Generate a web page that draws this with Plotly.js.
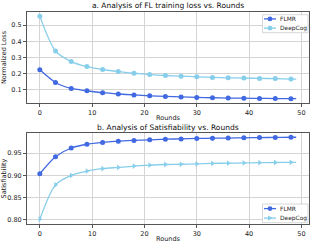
<!DOCTYPE html>
<html><head><meta charset="utf-8">
<script src="https://cdn.plot.ly/plotly-3.0.1.min.js"></script>
<style>html,body{margin:0;padding:0;background:#fff}#c{width:314px;height:246px}</style>
</head><body><div id="c"></div>
<script>
var rounds = [0,3,6,9,12,15,18,21,24,27,30,33,36,39,42,45,48,49];
var lossFLMR = [0.224,0.146,0.109,0.095,0.083,0.075,0.069,0.064,0.060,0.057,0.054,0.052,0.050,0.049,0.048,0.047,0.046,0.046];
var lossDeepCog = [0.555,0.340,0.275,0.244,0.226,0.213,0.203,0.195,0.189,0.185,0.181,0.177,0.175,0.173,0.171,0.170,0.167,0.167];
var satFLMR = [0.9037,0.942,0.9616,0.970,0.974,0.977,0.9787,0.980,0.9815,0.982,0.983,0.9837,0.984,0.9845,0.985,0.9853,0.9857,0.9858];
var satDeepCog = [0.8015,0.8786,0.900,0.9097,0.915,0.918,0.921,0.923,0.9245,0.925,0.926,0.927,0.9275,0.928,0.9285,0.929,0.9293,0.9294];
var seriesNames = ['FLMR','DeepCog'];
var xTicks = [0,10,20,30,40,50];

var cFL = '#4169E1', cDC = '#87CEEB';
var W = 314, H = 246, ML = 27, MR = 5, MT = 12, MB = 22;
var PW = W - ML - MR, PH = H - MT - MB;
function px(x){ return (x - ML) / PW; }
function py(y){ return (H - MB - y) / PH; }

function mcol(c){ return rounds.map(function(r,i){ return i===rounds.length-1 ? 'rgba(0,0,0,0)' : c; }); }
function tr(y, name, c, sym, xa, ya){
  return {x: rounds, y: y, name: name, mode:'lines+markers', xaxis:xa, yaxis:ya, showlegend:false,
    line:{color:c, width:1.3, shape:'spline', smoothing:0.8},
    marker:{color:mcol(c), size:5, symbol:sym, line:{width:0}}};
}
var data = [
  tr(lossFLMR, seriesNames[0], cFL, 'circle', 'x', 'y'),
  tr(lossDeepCog, seriesNames[1], cDC, 'circle', 'x', 'y'),
  tr(satFLMR, seriesNames[0], cFL, 'circle', 'x2', 'y2'),
  tr(satDeepCog, seriesNames[1], cDC, 'triangle-right', 'x2', 'y2')
];
var fnt = {family:'DejaVu Sans, sans-serif', size:6.5, color:'#222'};
var ax = {range:[-2.45,51.45], tickvals:xTicks, showgrid:true, gridcolor:'#d4d4d4', gridwidth:1,
  zeroline:false, showline:true, mirror:true, linecolor:'#555', linewidth:1, ticks:'outside', ticklen:3,
  tickcolor:'#555', tickfont:fnt};
var yax = {showgrid:true, gridcolor:'#d4d4d4', zeroline:false, showline:true, mirror:true, linecolor:'#555',
  ticks:'outside', ticklen:3, tickcolor:'#555', tickfont:fnt};

var shapes = [], annotations = [];
// custom legends (matplotlib style)
function legendBox(top, bottom, entries){
  shapes.push({type:'rect', xref:'paper', yref:'paper', x0:px(262.5), x1:px(308), y0:py(bottom), y1:py(top),
    line:{color:'#cccccc', width:0.8}, fillcolor:'rgba(255,255,255,0.85)', layer:'above'});
  entries.forEach(function(e){
    shapes.push({type:'line', xref:'paper', yref:'paper', x0:px(264), x1:px(276), y0:py(e.y), y1:py(e.y),
      line:{color:e.c, width:1.3}, layer:'above'});
    if (e.sym === 'circle') {
      shapes.push({type:'circle', xref:'paper', yref:'paper', x0:px(267.6), x1:px(272.4), y0:py(e.y+2.4), y1:py(e.y-2.4),
        line:{width:0}, fillcolor:e.c, layer:'above'});
    } else {
      var x0 = 268, y0 = e.y;
      shapes.push({type:'path', xref:'paper', yref:'paper',
        path:'M'+px(x0)+','+py(y0-2.6)+' L'+px(x0+4.6)+','+py(y0)+' L'+px(x0)+','+py(y0+2.6)+' Z',
        line:{width:0}, fillcolor:e.c, layer:'above'});
    }
    annotations.push({text:e.name, xref:'paper', yref:'paper', x:px(278.3), y:py(e.y), xanchor:'left', yanchor:'middle',
      showarrow:false, font:{family:'DejaVu Sans, sans-serif', size:5.9, color:'#222'}});
  });
}
legendBox(14.7, 32.7, [{y:18.9, c:cFL, sym:'circle', name:seriesNames[0]}, {y:28.2, c:cDC, sym:'circle', name:seriesNames[1]}]);
legendBox(204, 222.7, [{y:208.6, c:cFL, sym:'circle', name:seriesNames[0]}, {y:218.1, c:cDC, sym:'tri', name:seriesNames[1]}]);

var tfont = {family:'DejaVu Sans, sans-serif', size:7.5, color:'#111'};
annotations.push({text:'a. Analysis of FL training loss vs. Rounds', xref:'paper', yref:'paper', x:0.5, y:py(6), xanchor:'center', yanchor:'middle', showarrow:false, font:tfont});
annotations.push({text:'b. Analysis of Satisfiability vs. Rounds', xref:'paper', yref:'paper', x:0.5, y:py(127.5), xanchor:'center', yanchor:'middle', showarrow:false, font:tfont});
annotations.push({text:'Rounds', xref:'paper', yref:'paper', x:0.5, y:py(117.5), xanchor:'center', yanchor:'middle', showarrow:false, font:fnt});
annotations.push({text:'Rounds', xref:'paper', yref:'paper', x:0.5, y:py(238.5), xanchor:'center', yanchor:'middle', showarrow:false, font:fnt});

var layout = {
  width:W, height:H, margin:{l:ML, r:MR, t:MT, b:MB}, paper_bgcolor:'#fff', plot_bgcolor:'#fff',
  font:fnt, showlegend:false,
  xaxis: Object.assign({}, ax, {anchor:'y', domain:[0,1]}),
  xaxis2: Object.assign({}, ax, {anchor:'y2', domain:[0,1]}),
  yaxis: Object.assign({}, yax, {domain:[py(103),1], anchor:'x', range:[0.0195,0.5805], tickvals:[0.1,0.2,0.3,0.4,0.5], tickformat:'.1f',
    title:{text:'Normalized Loss', font:fnt, standoff:4}}),
  yaxis2: Object.assign({}, yax, {domain:[0,py(133)], anchor:'x2', range:[0.7907,0.9953], tickvals:[0.80,0.85,0.90,0.95], tickformat:'.2f',
    title:{text:'Satisfiability', font:fnt, standoff:3}}),
  shapes: shapes,
  annotations: annotations
};
Plotly.newPlot('c', data, layout, {displayModeBar:false, staticPlot:true});
</script></body></html>
